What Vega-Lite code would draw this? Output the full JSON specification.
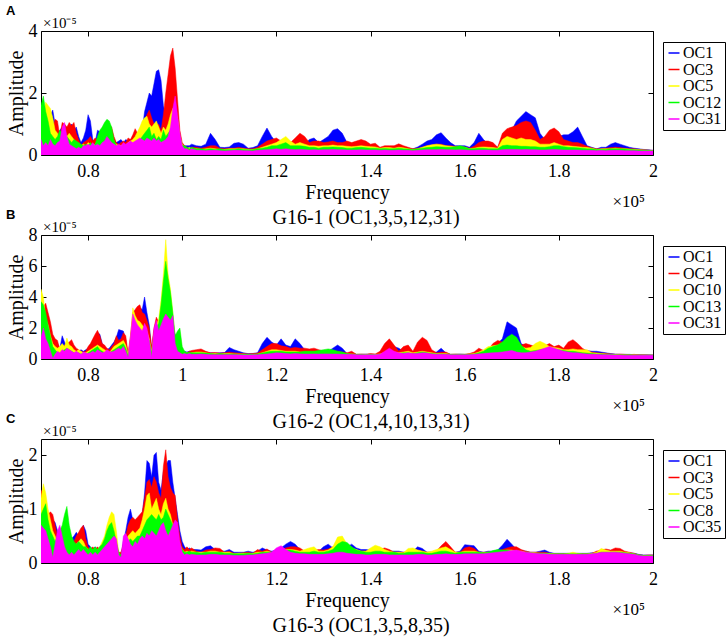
{
"$schema":"https://vega.github.io/schema/vega-lite/v6.json",
"padding":{"left":6,"top":5,"right":5,"bottom":5},
"bounds":"flush",
"spacing":80,
"config":{
 "font":"Liberation Serif",
 "view":{"stroke":null},
 "axis":{"domain":true,"domainColor":"#000","domainWidth":1,"grid":false,"ticks":true,"tickColor":"#000","tickSize":-5,"tickWidth":1,"labelFont":"Liberation Serif","labelFontSize":18,"labelColor":"#000","labelFlush":false,"titleFont":"Liberation Serif","titleFontSize":20,"titleFontWeight":"normal","titleColor":"#000","zindex":1},
 "legend":{"orient":"none","legendX":622,"legendY":11,"symbolType":"stroke","symbolSize":121,"symbolStrokeWidth":1.5,"labelFont":"Liberation Serif","labelFontSize":16,"labelColor":"#000","strokeColor":"#000","fillColor":"#fff","padding":3,"rowPadding":0.5,"labelOffset":1,"cornerRadius":0},
 "title":{"anchor":"start","frame":"bounds","font":"Liberation Sans","fontSize":13,"fontWeight":"bold","color":"#000","offset":0,"dy":6}
},
"resolve":{"scale":{"x":"independent","y":"independent","stroke":"independent"},"legend":{"stroke":"independent"}},
"datasets":{
"A":[
{"f":0.700,"b":1.1,"r":1.5,"y":1.2,"g":1.6,"m":0.5},
{"f":0.705,"b":1.0,"r":1.3,"y":1.4,"g":1.9,"m":0.3},
{"f":0.710,"b":0.9,"r":1.0,"y":1.7,"g":1.4,"m":0.4},
{"f":0.715,"b":0.8,"r":0.9,"y":1.6,"g":1.1,"m":0.3},
{"f":0.720,"b":1.3,"r":0.8,"y":1.5,"g":0.7,"m":0.5},
{"f":0.725,"b":1.45,"r":0.9,"y":1.2,"g":0.6,"m":0.35},
{"f":0.730,"b":1.0,"r":1.15,"y":0.8,"g":0.5,"m":0.3},
{"f":0.735,"b":0.7,"r":1.1,"y":0.7,"g":0.6,"m":0.4},
{"f":0.740,"b":0.8,"r":0.6,"y":0.5,"g":0.8,"m":0.45},
{"f":0.745,"b":0.9,"r":1.05,"y":0.6,"g":0.7,"m":0.9},
{"f":0.750,"b":0.8,"r":1.0,"y":0.7,"g":0.5,"m":1.05},
{"f":0.755,"b":0.7,"r":0.9,"y":0.6,"g":0.6,"m":0.6},
{"f":0.760,"b":0.9,"r":1.05,"y":0.7,"g":0.5,"m":0.35},
{"f":0.765,"b":1.0,"r":0.95,"y":0.6,"g":0.4,"m":0.3},
{"f":0.770,"b":0.8,"r":1.05,"y":0.5,"g":0.5,"m":0.25},
{"f":0.775,"b":0.9,"r":0.7,"y":0.4,"g":0.45,"m":0.2},
{"f":0.780,"b":0.6,"r":0.5,"y":0.35,"g":0.4,"m":0.25},
{"f":0.785,"b":0.4,"r":0.3,"y":0.3,"g":0.35,"m":0.2},
{"f":0.790,"b":0.55,"r":0.4,"y":0.35,"g":0.3,"m":0.3},
{"f":0.795,"b":0.8,"r":0.45,"y":0.3,"g":0.35,"m":0.3},
{"f":0.800,"b":1.3,"r":0.5,"y":0.4,"g":0.3,"m":0.35},
{"f":0.805,"b":1.1,"r":0.6,"y":0.35,"g":0.4,"m":0.3},
{"f":0.810,"b":0.5,"r":0.45,"y":0.3,"g":0.3,"m":0.4},
{"f":0.815,"b":0.4,"r":0.55,"y":0.35,"g":0.35,"m":0.3},
{"f":0.820,"b":0.8,"r":0.5,"y":0.4,"g":0.6,"m":0.35},
{"f":0.825,"b":0.75,"r":0.6,"y":0.45,"g":0.8,"m":0.3},
{"f":0.830,"b":0.6,"r":0.75,"y":0.5,"g":0.9,"m":0.4},
{"f":0.835,"b":0.7,"r":0.9,"y":0.6,"g":1.05,"m":0.45},
{"f":0.840,"b":0.8,"r":1.0,"y":0.7,"g":1.15,"m":0.6},
{"f":0.845,"b":0.7,"r":0.95,"y":0.8,"g":1.1,"m":0.5},
{"f":0.850,"b":0.6,"r":0.9,"y":0.6,"g":0.9,"m":0.4},
{"f":0.855,"b":0.5,"r":0.6,"y":0.4,"g":0.5,"m":0.35},
{"f":0.860,"b":0.4,"r":0.4,"y":0.35,"g":0.3,"m":0.3},
{"f":0.865,"b":0.45,"r":0.35,"y":0.3,"g":0.25,"m":0.35},
{"f":0.870,"b":0.5,"r":0.4,"y":0.3,"g":0.2,"m":0.3},
{"f":0.875,"b":0.4,"r":0.45,"y":0.35,"g":0.25,"m":0.4},
{"f":0.880,"b":0.5,"r":0.4,"y":0.3,"g":0.3,"m":0.35},
{"f":0.885,"b":0.45,"r":0.55,"y":0.4,"g":0.35,"m":0.4},
{"f":0.890,"b":0.5,"r":0.5,"y":0.45,"g":0.3,"m":0.45},
{"f":0.895,"b":0.4,"r":0.65,"y":0.5,"g":0.35,"m":0.4},
{"f":0.900,"b":0.5,"r":0.85,"y":0.6,"g":0.4,"m":0.45},
{"f":0.905,"b":0.6,"r":0.7,"y":0.75,"g":0.45,"m":0.5},
{"f":0.910,"b":0.7,"r":0.6,"y":0.9,"g":0.5,"m":0.55},
{"f":0.915,"b":0.8,"r":0.8,"y":1.1,"g":0.6,"m":0.5},
{"f":0.920,"b":1.4,"r":1.1,"y":1.2,"g":0.7,"m":0.45},
{"f":0.925,"b":1.7,"r":1.3,"y":1.25,"g":0.8,"m":0.55},
{"f":0.930,"b":2.0,"r":1.45,"y":1.0,"g":0.9,"m":0.5},
{"f":0.935,"b":1.9,"r":1.2,"y":0.9,"g":0.6,"m":0.45},
{"f":0.940,"b":2.3,"r":1.0,"y":1.0,"g":0.7,"m":0.55},
{"f":0.945,"b":2.7,"r":0.9,"y":1.1,"g":0.5,"m":0.45},
{"f":0.950,"b":2.75,"r":1.0,"y":0.9,"g":0.6,"m":0.5},
{"f":0.955,"b":2.4,"r":0.8,"y":0.7,"g":0.5,"m":0.4},
{"f":0.960,"b":1.6,"r":1.3,"y":0.9,"g":0.8,"m":0.45},
{"f":0.965,"b":1.3,"r":2.0,"y":0.8,"g":0.6,"m":0.5},
{"f":0.970,"b":1.1,"r":2.6,"y":1.0,"g":0.7,"m":0.6},
{"f":0.975,"b":0.9,"r":3.2,"y":1.3,"g":0.8,"m":0.9},
{"f":0.980,"b":0.8,"r":3.45,"y":1.5,"g":1.0,"m":1.5},
{"f":0.985,"b":0.7,"r":2.8,"y":1.4,"g":1.1,"m":1.9},
{"f":0.990,"b":0.6,"r":1.8,"y":1.2,"g":0.9,"m":1.3},
{"f":0.995,"b":0.5,"r":0.8,"y":0.6,"g":0.6,"m":0.7},
{"f":1.000,"b":0.35,"r":0.4,"y":0.35,"g":0.3,"m":0.3},
{"f":1.005,"b":0.3,"r":0.3,"y":0.25,"g":0.3,"m":0.2},
{"f":1.010,"b":0.3,"r":0.25,"y":0.2,"g":0.25,"m":0.2},
{"f":1.015,"b":0.3,"r":0.2,"y":0.25,"g":0.2,"m":0.15},
{"f":1.020,"b":0.35,"r":0.25,"y":0.2,"g":0.25,"m":0.2},
{"f":1.03,"b":0.3,"r":0.25,"y":0.2,"g":0.2,"m":0.15},
{"f":1.04,"b":0.28,"r":0.22,"y":0.18,"g":0.2,"m":0.15},
{"f":1.05,"b":0.35,"r":0.25,"y":0.2,"g":0.18,"m":0.14},
{"f":1.06,"b":0.7,"r":0.3,"y":0.22,"g":0.2,"m":0.15},
{"f":1.07,"b":0.5,"r":0.3,"y":0.2,"g":0.18,"m":0.15},
{"f":1.08,"b":0.25,"r":0.22,"y":0.18,"g":0.2,"m":0.14},
{"f":1.09,"b":0.24,"r":0.2,"y":0.18,"g":0.17,"m":0.13},
{"f":1.10,"b":0.26,"r":0.22,"y":0.2,"g":0.18,"m":0.14},
{"f":1.11,"b":0.38,"r":0.22,"y":0.2,"g":0.18,"m":0.15},
{"f":1.12,"b":0.4,"r":0.25,"y":0.2,"g":0.2,"m":0.15},
{"f":1.13,"b":0.35,"r":0.22,"y":0.2,"g":0.18,"m":0.14},
{"f":1.14,"b":0.22,"r":0.2,"y":0.18,"g":0.17,"m":0.14},
{"f":1.15,"b":0.24,"r":0.2,"y":0.18,"g":0.17,"m":0.13},
{"f":1.16,"b":0.3,"r":0.25,"y":0.2,"g":0.2,"m":0.15},
{"f":1.17,"b":0.6,"r":0.35,"y":0.25,"g":0.22,"m":0.16},
{"f":1.18,"b":0.87,"r":0.45,"y":0.3,"g":0.25,"m":0.17},
{"f":1.19,"b":0.6,"r":0.5,"y":0.35,"g":0.3,"m":0.18},
{"f":1.20,"b":0.4,"r":0.55,"y":0.4,"g":0.3,"m":0.2},
{"f":1.21,"b":0.35,"r":0.45,"y":0.5,"g":0.35,"m":0.18},
{"f":1.22,"b":0.35,"r":0.45,"y":0.6,"g":0.4,"m":0.2},
{"f":1.23,"b":0.3,"r":0.4,"y":0.45,"g":0.3,"m":0.18},
{"f":1.24,"b":0.35,"r":0.55,"y":0.35,"g":0.3,"m":0.17},
{"f":1.25,"b":0.4,"r":0.7,"y":0.4,"g":0.3,"m":0.18},
{"f":1.26,"b":0.35,"r":0.6,"y":0.35,"g":0.28,"m":0.17},
{"f":1.27,"b":0.5,"r":0.4,"y":0.3,"g":0.25,"m":0.16},
{"f":1.28,"b":0.55,"r":0.45,"y":0.3,"g":0.25,"m":0.17},
{"f":1.29,"b":0.4,"r":0.45,"y":0.28,"g":0.22,"m":0.16},
{"f":1.30,"b":0.5,"r":0.4,"y":0.3,"g":0.25,"m":0.17},
{"f":1.31,"b":0.6,"r":0.42,"y":0.3,"g":0.25,"m":0.17},
{"f":1.32,"b":0.8,"r":0.45,"y":0.32,"g":0.26,"m":0.18},
{"f":1.33,"b":0.85,"r":0.4,"y":0.3,"g":0.25,"m":0.17},
{"f":1.34,"b":0.7,"r":0.4,"y":0.3,"g":0.24,"m":0.17},
{"f":1.35,"b":0.4,"r":0.45,"y":0.28,"g":0.22,"m":0.16},
{"f":1.36,"b":0.35,"r":0.4,"y":0.27,"g":0.22,"m":0.16},
{"f":1.37,"b":0.38,"r":0.45,"y":0.28,"g":0.24,"m":0.16},
{"f":1.38,"b":0.4,"r":0.5,"y":0.3,"g":0.25,"m":0.17},
{"f":1.39,"b":0.35,"r":0.45,"y":0.28,"g":0.23,"m":0.16},
{"f":1.40,"b":0.3,"r":0.35,"y":0.27,"g":0.22,"m":0.16},
{"f":1.41,"b":0.3,"r":0.38,"y":0.26,"g":0.22,"m":0.16},
{"f":1.42,"b":0.22,"r":0.25,"y":0.22,"g":0.2,"m":0.15},
{"f":1.43,"b":0.25,"r":0.3,"y":0.24,"g":0.21,"m":0.16},
{"f":1.44,"b":0.27,"r":0.3,"y":0.24,"g":0.2,"m":0.15},
{"f":1.45,"b":0.25,"r":0.3,"y":0.22,"g":0.2,"m":0.15},
{"f":1.46,"b":0.3,"r":0.36,"y":0.25,"g":0.22,"m":0.16},
{"f":1.47,"b":0.26,"r":0.3,"y":0.23,"g":0.2,"m":0.15},
{"f":1.48,"b":0.22,"r":0.25,"y":0.2,"g":0.19,"m":0.15},
{"f":1.49,"b":0.2,"r":0.2,"y":0.18,"g":0.18,"m":0.14},
{"f":1.50,"b":0.26,"r":0.22,"y":0.2,"g":0.2,"m":0.15},
{"f":1.51,"b":0.35,"r":0.25,"y":0.25,"g":0.22,"m":0.16},
{"f":1.52,"b":0.45,"r":0.3,"y":0.3,"g":0.24,"m":0.17},
{"f":1.53,"b":0.5,"r":0.32,"y":0.33,"g":0.25,"m":0.17},
{"f":1.54,"b":0.65,"r":0.35,"y":0.35,"g":0.27,"m":0.17},
{"f":1.55,"b":0.72,"r":0.35,"y":0.33,"g":0.26,"m":0.18},
{"f":1.56,"b":0.55,"r":0.3,"y":0.3,"g":0.25,"m":0.17},
{"f":1.57,"b":0.4,"r":0.3,"y":0.28,"g":0.25,"m":0.17},
{"f":1.58,"b":0.3,"r":0.28,"y":0.26,"g":0.27,"m":0.16},
{"f":1.59,"b":0.3,"r":0.27,"y":0.26,"g":0.3,"m":0.17},
{"f":1.60,"b":0.3,"r":0.26,"y":0.25,"g":0.26,"m":0.16},
{"f":1.61,"b":0.25,"r":0.22,"y":0.2,"g":0.2,"m":0.15},
{"f":1.62,"b":0.4,"r":0.28,"y":0.22,"g":0.2,"m":0.15},
{"f":1.63,"b":0.7,"r":0.4,"y":0.25,"g":0.22,"m":0.16},
{"f":1.64,"b":0.5,"r":0.45,"y":0.26,"g":0.22,"m":0.16},
{"f":1.65,"b":0.35,"r":0.45,"y":0.25,"g":0.2,"m":0.16},
{"f":1.66,"b":0.3,"r":0.4,"y":0.24,"g":0.2,"m":0.15},
{"f":1.67,"b":0.25,"r":0.25,"y":0.22,"g":0.2,"m":0.15},
{"f":1.68,"b":0.5,"r":0.7,"y":0.5,"g":0.3,"m":0.17},
{"f":1.69,"b":0.6,"r":0.85,"y":0.6,"g":0.32,"m":0.18},
{"f":1.70,"b":0.8,"r":0.9,"y":0.55,"g":0.3,"m":0.18},
{"f":1.71,"b":1.1,"r":0.95,"y":0.5,"g":0.3,"m":0.18},
{"f":1.72,"b":1.25,"r":1.05,"y":0.55,"g":0.28,"m":0.17},
{"f":1.73,"b":1.4,"r":1.1,"y":0.5,"g":0.28,"m":0.18},
{"f":1.74,"b":1.3,"r":1.05,"y":0.5,"g":0.27,"m":0.17},
{"f":1.75,"b":1.2,"r":0.8,"y":0.45,"g":0.27,"m":0.17},
{"f":1.76,"b":0.7,"r":0.5,"y":0.35,"g":0.25,"m":0.16},
{"f":1.77,"b":0.5,"r":0.6,"y":0.35,"g":0.25,"m":0.16},
{"f":1.78,"b":0.6,"r":0.8,"y":0.35,"g":0.27,"m":0.17},
{"f":1.79,"b":0.7,"r":0.87,"y":0.4,"g":0.3,"m":0.18},
{"f":1.80,"b":0.6,"r":0.75,"y":0.35,"g":0.3,"m":0.17},
{"f":1.81,"b":0.65,"r":0.5,"y":0.3,"g":0.27,"m":0.16},
{"f":1.82,"b":0.65,"r":0.45,"y":0.3,"g":0.25,"m":0.16},
{"f":1.83,"b":0.75,"r":0.4,"y":0.28,"g":0.24,"m":0.16},
{"f":1.84,"b":0.9,"r":0.4,"y":0.27,"g":0.23,"m":0.16},
{"f":1.85,"b":0.6,"r":0.35,"y":0.25,"g":0.22,"m":0.15},
{"f":1.86,"b":0.3,"r":0.28,"y":0.24,"g":0.2,"m":0.15},
{"f":1.87,"b":0.25,"r":0.23,"y":0.22,"g":0.2,"m":0.15},
{"f":1.88,"b":0.2,"r":0.2,"y":0.18,"g":0.18,"m":0.14},
{"f":1.89,"b":0.25,"r":0.2,"y":0.2,"g":0.18,"m":0.15},
{"f":1.90,"b":0.25,"r":0.22,"y":0.2,"g":0.18,"m":0.14},
{"f":1.91,"b":0.35,"r":0.24,"y":0.2,"g":0.2,"m":0.15},
{"f":1.92,"b":0.4,"r":0.25,"y":0.22,"g":0.2,"m":0.15},
{"f":1.93,"b":0.35,"r":0.24,"y":0.2,"g":0.2,"m":0.15},
{"f":1.94,"b":0.3,"r":0.22,"y":0.2,"g":0.19,"m":0.14},
{"f":1.95,"b":0.25,"r":0.2,"y":0.19,"g":0.18,"m":0.14},
{"f":1.96,"b":0.22,"r":0.2,"y":0.18,"g":0.17,"m":0.14},
{"f":1.97,"b":0.2,"r":0.18,"y":0.17,"g":0.16,"m":0.13},
{"f":1.98,"b":0.18,"r":0.17,"y":0.16,"g":0.15,"m":0.13},
{"f":1.99,"b":0.17,"r":0.16,"y":0.15,"g":0.15,"m":0.13},
{"f":2.00,"b":0.15,"r":0.15,"y":0.14,"g":0.14,"m":0.13}
],
"B":[
{"f":0.700,"b":3.0,"r":3.2,"y":4.5,"g":3.7,"m":1.4},
{"f":0.705,"b":2.5,"r":3.4,"y":4.0,"g":3.5,"m":2.0},
{"f":0.710,"b":2.2,"r":3.6,"y":2.6,"g":3.0,"m":1.3},
{"f":0.715,"b":2.0,"r":3.0,"y":2.2,"g":2.2,"m":1.0},
{"f":0.720,"b":1.3,"r":2.4,"y":1.5,"g":1.5,"m":0.5},
{"f":0.725,"b":1.2,"r":1.6,"y":1.0,"g":0.8,"m":0.05},
{"f":0.730,"b":0.9,"r":1.3,"y":0.8,"g":0.6,"m":0.3},
{"f":0.735,"b":1.0,"r":1.2,"y":0.7,"g":0.4,"m":0.5},
{"f":0.740,"b":0.7,"r":0.6,"y":0.8,"g":0.3,"m":0.4},
{"f":0.745,"b":1.5,"r":0.8,"y":1.0,"g":0.5,"m":0.6},
{"f":0.750,"b":1.1,"r":0.9,"y":0.8,"g":0.6,"m":0.5},
{"f":0.755,"b":0.8,"r":1.0,"y":1.35,"g":0.7,"m":0.7},
{"f":0.760,"b":0.9,"r":1.1,"y":0.9,"g":0.6,"m":0.6},
{"f":0.765,"b":1.0,"r":1.25,"y":0.8,"g":0.5,"m":0.5},
{"f":0.770,"b":0.8,"r":0.9,"y":0.6,"g":0.4,"m":0.4},
{"f":0.775,"b":0.6,"r":0.7,"y":0.5,"g":0.3,"m":0.5},
{"f":0.780,"b":0.5,"r":0.6,"y":0.6,"g":0.4,"m":0.4},
{"f":0.785,"b":0.6,"r":0.5,"y":0.5,"g":0.3,"m":0.3},
{"f":0.790,"b":0.5,"r":0.45,"y":0.4,"g":0.4,"m":0.45},
{"f":0.795,"b":0.6,"r":0.5,"y":0.4,"g":0.3,"m":0.4},
{"f":0.800,"b":0.7,"r":0.8,"y":0.5,"g":0.4,"m":0.35},
{"f":0.805,"b":0.9,"r":1.0,"y":0.6,"g":0.5,"m":0.4},
{"f":0.810,"b":1.1,"r":1.3,"y":0.7,"g":0.6,"m":0.5},
{"f":0.815,"b":1.4,"r":1.6,"y":0.8,"g":0.7,"m":0.4},
{"f":0.820,"b":1.7,"r":1.85,"y":0.9,"g":0.8,"m":0.6},
{"f":0.825,"b":1.6,"r":1.5,"y":0.8,"g":0.6,"m":0.5},
{"f":0.830,"b":1.0,"r":1.0,"y":0.7,"g":0.5,"m":0.4},
{"f":0.835,"b":0.8,"r":0.9,"y":0.6,"g":0.4,"m":0.45},
{"f":0.840,"b":0.6,"r":0.7,"y":0.5,"g":0.3,"m":0.6},
{"f":0.845,"b":0.7,"r":0.6,"y":0.4,"g":0.35,"m":0.5},
{"f":0.850,"b":0.9,"r":0.8,"y":0.6,"g":0.5,"m":0.45},
{"f":0.855,"b":1.1,"r":1.0,"y":0.8,"g":0.6,"m":0.5},
{"f":0.860,"b":1.4,"r":1.5,"y":0.9,"g":0.7,"m":0.6},
{"f":0.865,"b":1.9,"r":1.2,"y":1.0,"g":0.8,"m":0.7},
{"f":0.870,"b":1.85,"r":1.3,"y":1.1,"g":0.9,"m":0.6},
{"f":0.875,"b":1.8,"r":1.7,"y":1.2,"g":1.0,"m":0.8},
{"f":0.880,"b":1.2,"r":1.5,"y":0.9,"g":0.7,"m":0.5},
{"f":0.885,"b":0.1,"r":0.4,"y":0.3,"g":0.2,"m":0.1},
{"f":0.890,"b":0.5,"r":1.5,"y":1.2,"g":1.0,"m":1.4},
{"f":0.895,"b":2.4,"r":3.0,"y":3.3,"g":2.0,"m":2.9},
{"f":0.900,"b":2.6,"r":3.2,"y":2.8,"g":1.8,"m":2.5},
{"f":0.905,"b":3.0,"r":3.4,"y":2.5,"g":1.6,"m":2.2},
{"f":0.910,"b":3.3,"r":3.5,"y":2.4,"g":1.5,"m":2.0},
{"f":0.915,"b":3.2,"r":3.0,"y":2.2,"g":1.6,"m":1.8},
{"f":0.920,"b":4.0,"r":2.9,"y":2.0,"g":1.5,"m":2.3},
{"f":0.925,"b":3.0,"r":2.5,"y":1.8,"g":1.4,"m":2.0},
{"f":0.930,"b":2.2,"r":2.0,"y":1.3,"g":1.2,"m":1.2},
{"f":0.935,"b":0.6,"r":0.8,"y":0.5,"g":0.4,"m":0.1},
{"f":0.940,"b":1.8,"r":2.0,"y":1.6,"g":1.5,"m":2.0},
{"f":0.945,"b":2.4,"r":2.7,"y":2.2,"g":2.0,"m":2.5},
{"f":0.950,"b":2.5,"r":2.4,"y":2.6,"g":2.3,"m":1.8},
{"f":0.955,"b":2.6,"r":2.5,"y":3.8,"g":3.5,"m":2.2},
{"f":0.960,"b":2.8,"r":2.7,"y":5.5,"g":5.0,"m":2.6},
{"f":0.965,"b":2.7,"r":2.6,"y":7.7,"g":6.3,"m":2.9},
{"f":0.970,"b":2.5,"r":2.4,"y":5.5,"g":5.2,"m":2.7},
{"f":0.975,"b":2.3,"r":2.2,"y":4.5,"g":4.3,"m":2.5},
{"f":0.980,"b":2.0,"r":1.9,"y":3.0,"g":3.0,"m":2.8},
{"f":0.985,"b":1.6,"r":1.5,"y":1.4,"g":1.5,"m":1.0},
{"f":0.990,"b":1.2,"r":1.0,"y":1.6,"g":1.8,"m":0.5},
{"f":0.995,"b":0.9,"r":0.8,"y":1.7,"g":2.0,"m":0.4},
{"f":1.000,"b":0.6,"r":0.5,"y":0.6,"g":0.8,"m":0.3},
{"f":1.005,"b":0.5,"r":0.4,"y":0.45,"g":0.5,"m":0.35},
{"f":1.010,"b":0.45,"r":0.4,"y":0.4,"g":0.4,"m":0.3},
{"f":1.015,"b":0.5,"r":0.5,"y":0.35,"g":0.45,"m":0.35},
{"f":1.020,"b":0.45,"r":0.55,"y":0.4,"g":0.4,"m":0.3},
{"f":1.03,"b":0.5,"r":0.6,"y":0.45,"g":0.4,"m":0.3},
{"f":1.04,"b":0.55,"r":0.65,"y":0.45,"g":0.4,"m":0.32},
{"f":1.05,"b":0.45,"r":0.5,"y":0.4,"g":0.38,"m":0.3},
{"f":1.06,"b":0.4,"r":0.4,"y":0.35,"g":0.35,"m":0.28},
{"f":1.07,"b":0.38,"r":0.42,"y":0.35,"g":0.32,"m":0.28},
{"f":1.08,"b":0.4,"r":0.38,"y":0.33,"g":0.35,"m":0.27},
{"f":1.09,"b":0.42,"r":0.4,"y":0.35,"g":0.33,"m":0.28},
{"f":1.10,"b":0.75,"r":0.45,"y":0.35,"g":0.33,"m":0.28},
{"f":1.11,"b":0.6,"r":0.4,"y":0.33,"g":0.32,"m":0.27},
{"f":1.12,"b":0.5,"r":0.38,"y":0.32,"g":0.3,"m":0.27},
{"f":1.13,"b":0.4,"r":0.35,"y":0.32,"g":0.3,"m":0.26},
{"f":1.14,"b":0.35,"r":0.33,"y":0.3,"g":0.3,"m":0.26},
{"f":1.15,"b":0.36,"r":0.35,"y":0.3,"g":0.3,"m":0.27},
{"f":1.16,"b":0.4,"r":0.38,"y":0.32,"g":0.32,"m":0.27},
{"f":1.17,"b":1.0,"r":0.6,"y":0.4,"g":0.38,"m":0.3},
{"f":1.18,"b":1.4,"r":0.8,"y":0.5,"g":0.45,"m":0.32},
{"f":1.19,"b":1.1,"r":1.0,"y":0.6,"g":0.5,"m":0.35},
{"f":1.20,"b":0.9,"r":1.0,"y":0.6,"g":0.5,"m":0.4},
{"f":1.21,"b":1.3,"r":0.85,"y":0.55,"g":0.5,"m":0.38},
{"f":1.22,"b":0.9,"r":0.8,"y":0.5,"g":0.45,"m":0.35},
{"f":1.23,"b":0.8,"r":0.7,"y":0.5,"g":0.45,"m":0.33},
{"f":1.24,"b":1.3,"r":0.75,"y":0.5,"g":0.45,"m":0.35},
{"f":1.25,"b":1.0,"r":0.7,"y":0.45,"g":0.45,"m":0.33},
{"f":1.26,"b":0.6,"r":0.7,"y":0.45,"g":0.5,"m":0.32},
{"f":1.27,"b":0.55,"r":0.65,"y":0.45,"g":0.5,"m":0.32},
{"f":1.28,"b":0.6,"r":0.7,"y":0.45,"g":0.5,"m":0.33},
{"f":1.29,"b":0.5,"r":0.6,"y":0.4,"g":0.55,"m":0.32},
{"f":1.30,"b":0.45,"r":0.5,"y":0.4,"g":0.6,"m":0.33},
{"f":1.31,"b":0.5,"r":0.55,"y":0.4,"g":0.65,"m":0.33},
{"f":1.32,"b":0.7,"r":0.55,"y":0.4,"g":0.6,"m":0.32},
{"f":1.33,"b":0.9,"r":0.5,"y":0.4,"g":0.5,"m":0.32},
{"f":1.34,"b":0.7,"r":0.45,"y":0.38,"g":0.45,"m":0.3},
{"f":1.35,"b":0.35,"r":0.4,"y":0.33,"g":0.35,"m":0.3},
{"f":1.36,"b":0.4,"r":0.5,"y":0.33,"g":0.32,"m":0.3},
{"f":1.37,"b":0.3,"r":0.3,"y":0.3,"g":0.3,"m":0.28},
{"f":1.38,"b":0.3,"r":0.32,"y":0.3,"g":0.3,"m":0.28},
{"f":1.39,"b":0.32,"r":0.3,"y":0.3,"g":0.28,"m":0.27},
{"f":1.40,"b":0.3,"r":0.35,"y":0.3,"g":0.3,"m":0.28},
{"f":1.41,"b":0.3,"r":0.32,"y":0.3,"g":0.28,"m":0.27},
{"f":1.42,"b":0.35,"r":0.5,"y":0.33,"g":0.3,"m":0.3},
{"f":1.43,"b":0.5,"r":1.0,"y":0.4,"g":0.35,"m":0.5},
{"f":1.44,"b":0.6,"r":1.3,"y":0.5,"g":0.45,"m":0.7},
{"f":1.45,"b":0.8,"r":0.9,"y":0.45,"g":0.4,"m":0.5},
{"f":1.46,"b":0.7,"r":0.5,"y":0.4,"g":0.35,"m":0.4},
{"f":1.47,"b":0.5,"r":0.8,"y":0.45,"g":0.4,"m":0.35},
{"f":1.48,"b":0.45,"r":0.9,"y":0.5,"g":0.4,"m":0.4},
{"f":1.49,"b":0.4,"r":0.5,"y":0.4,"g":0.35,"m":0.35},
{"f":1.50,"b":0.5,"r":1.1,"y":0.45,"g":0.4,"m":0.35},
{"f":1.51,"b":0.5,"r":1.4,"y":0.5,"g":0.45,"m":0.4},
{"f":1.52,"b":0.45,"r":1.2,"y":0.45,"g":0.4,"m":0.38},
{"f":1.53,"b":0.4,"r":0.6,"y":0.4,"g":0.35,"m":0.33},
{"f":1.54,"b":0.45,"r":0.4,"y":0.35,"g":0.33,"m":0.3},
{"f":1.55,"b":0.7,"r":0.45,"y":0.35,"g":0.33,"m":0.3},
{"f":1.56,"b":0.4,"r":0.45,"y":0.35,"g":0.32,"m":0.3},
{"f":1.57,"b":0.3,"r":0.3,"y":0.3,"g":0.3,"m":0.28},
{"f":1.58,"b":0.3,"r":0.32,"y":0.3,"g":0.3,"m":0.28},
{"f":1.59,"b":0.32,"r":0.3,"y":0.3,"g":0.3,"m":0.28},
{"f":1.60,"b":0.3,"r":0.3,"y":0.3,"g":0.3,"m":0.28},
{"f":1.61,"b":0.3,"r":0.35,"y":0.32,"g":0.3,"m":0.28},
{"f":1.62,"b":0.35,"r":0.45,"y":0.35,"g":0.32,"m":0.3},
{"f":1.63,"b":0.5,"r":0.7,"y":0.45,"g":0.4,"m":0.33},
{"f":1.64,"b":0.5,"r":0.55,"y":0.6,"g":0.5,"m":0.35},
{"f":1.65,"b":0.6,"r":0.6,"y":0.8,"g":0.7,"m":0.38},
{"f":1.66,"b":0.8,"r":1.0,"y":0.85,"g":0.8,"m":0.4},
{"f":1.67,"b":1.0,"r":1.2,"y":0.9,"g":0.9,"m":0.42},
{"f":1.68,"b":1.3,"r":1.1,"y":1.0,"g":1.1,"m":0.45},
{"f":1.69,"b":2.4,"r":1.2,"y":1.2,"g":1.4,"m":0.5},
{"f":1.70,"b":2.2,"r":1.3,"y":1.3,"g":1.6,"m":0.55},
{"f":1.71,"b":2.0,"r":1.2,"y":1.2,"g":1.4,"m":0.45},
{"f":1.72,"b":1.0,"r":0.9,"y":0.8,"g":0.9,"m":0.4},
{"f":1.73,"b":0.8,"r":1.0,"y":0.7,"g":0.6,"m":0.4},
{"f":1.74,"b":0.8,"r":0.9,"y":0.75,"g":0.5,"m":0.45},
{"f":1.75,"b":0.7,"r":0.8,"y":1.0,"g":0.55,"m":0.5},
{"f":1.76,"b":0.7,"r":0.9,"y":1.15,"g":0.6,"m":0.6},
{"f":1.77,"b":0.75,"r":0.85,"y":1.0,"g":0.65,"m":0.7},
{"f":1.78,"b":0.8,"r":1.0,"y":0.8,"g":0.7,"m":0.8},
{"f":1.79,"b":0.7,"r":0.8,"y":0.75,"g":0.65,"m":0.7},
{"f":1.80,"b":0.75,"r":0.9,"y":0.7,"g":0.6,"m":0.6},
{"f":1.81,"b":0.6,"r":0.7,"y":0.6,"g":0.55,"m":0.5},
{"f":1.82,"b":0.7,"r":1.1,"y":0.6,"g":0.5,"m":0.45},
{"f":1.83,"b":0.8,"r":1.25,"y":0.65,"g":0.5,"m":0.4},
{"f":1.84,"b":0.7,"r":1.0,"y":0.6,"g":0.45,"m":0.4},
{"f":1.85,"b":0.6,"r":0.7,"y":0.6,"g":0.4,"m":0.35},
{"f":1.86,"b":0.55,"r":0.5,"y":0.6,"g":0.38,"m":0.33},
{"f":1.87,"b":0.5,"r":0.45,"y":0.4,"g":0.35,"m":0.3},
{"f":1.88,"b":0.5,"r":0.4,"y":0.38,"g":0.33,"m":0.3},
{"f":1.89,"b":0.45,"r":0.38,"y":0.35,"g":0.32,"m":0.28},
{"f":1.90,"b":0.4,"r":0.36,"y":0.33,"g":0.3,"m":0.28},
{"f":1.91,"b":0.35,"r":0.33,"y":0.3,"g":0.3,"m":0.27},
{"f":1.92,"b":0.32,"r":0.3,"y":0.3,"g":0.28,"m":0.26},
{"f":1.93,"b":0.3,"r":0.32,"y":0.28,"g":0.28,"m":0.26},
{"f":1.94,"b":0.3,"r":0.3,"y":0.28,"g":0.27,"m":0.25},
{"f":1.95,"b":0.3,"r":0.28,"y":0.27,"g":0.27,"m":0.25},
{"f":1.96,"b":0.28,"r":0.3,"y":0.27,"g":0.26,"m":0.25},
{"f":1.97,"b":0.28,"r":0.27,"y":0.26,"g":0.26,"m":0.25},
{"f":1.98,"b":0.27,"r":0.27,"y":0.26,"g":0.25,"m":0.24},
{"f":1.99,"b":0.27,"r":0.26,"y":0.25,"g":0.25,"m":0.24},
{"f":2.00,"b":0.26,"r":0.26,"y":0.25,"g":0.25,"m":0.24}
],
"C":[
{"f":0.700,"b":1.0,"r":1.35,"y":1.2,"g":0.9,"m":0.7},
{"f":0.705,"b":0.9,"r":1.3,"y":1.47,"g":1.0,"m":0.65},
{"f":0.710,"b":0.8,"r":1.1,"y":1.3,"g":1.1,"m":0.6},
{"f":0.715,"b":0.7,"r":0.9,"y":1.0,"g":0.8,"m":0.45},
{"f":0.720,"b":0.85,"r":0.95,"y":0.8,"g":0.6,"m":0.3},
{"f":0.725,"b":0.8,"r":0.9,"y":0.6,"g":0.5,"m":0.1},
{"f":0.730,"b":0.75,"r":0.7,"y":0.5,"g":0.4,"m":0.35},
{"f":0.735,"b":0.6,"r":0.5,"y":0.4,"g":0.5,"m":0.6},
{"f":0.740,"b":0.4,"r":0.4,"y":0.3,"g":0.6,"m":0.7},
{"f":0.745,"b":0.5,"r":0.45,"y":0.35,"g":0.7,"m":0.5},
{"f":0.750,"b":0.4,"r":0.4,"y":0.4,"g":0.9,"m":0.3},
{"f":0.755,"b":0.45,"r":0.35,"y":0.45,"g":1.05,"m":0.2},
{"f":0.760,"b":0.5,"r":0.4,"y":0.4,"g":0.7,"m":0.15},
{"f":0.765,"b":0.45,"r":0.35,"y":0.35,"g":0.5,"m":0.2},
{"f":0.770,"b":0.5,"r":0.4,"y":0.3,"g":0.4,"m":0.15},
{"f":0.775,"b":0.57,"r":0.5,"y":0.35,"g":0.35,"m":0.2},
{"f":0.780,"b":0.5,"r":0.57,"y":0.4,"g":0.4,"m":0.25},
{"f":0.785,"b":0.6,"r":0.65,"y":0.45,"g":0.35,"m":0.2},
{"f":0.790,"b":0.7,"r":0.7,"y":0.4,"g":0.3,"m":0.25},
{"f":0.795,"b":0.6,"r":0.45,"y":0.3,"g":0.3,"m":0.2},
{"f":0.800,"b":0.35,"r":0.3,"y":0.25,"g":0.25,"m":0.15},
{"f":0.805,"b":0.3,"r":0.25,"y":0.2,"g":0.3,"m":0.2},
{"f":0.810,"b":0.25,"r":0.3,"y":0.25,"g":0.25,"m":0.15},
{"f":0.815,"b":0.3,"r":0.25,"y":0.2,"g":0.3,"m":0.2},
{"f":0.820,"b":0.25,"r":0.3,"y":0.25,"g":0.25,"m":0.15},
{"f":0.825,"b":0.3,"r":0.25,"y":0.3,"g":0.3,"m":0.2},
{"f":0.830,"b":0.35,"r":0.3,"y":0.4,"g":0.35,"m":0.25},
{"f":0.835,"b":0.3,"r":0.35,"y":0.5,"g":0.45,"m":0.3},
{"f":0.840,"b":0.35,"r":0.4,"y":0.7,"g":0.6,"m":0.35},
{"f":0.845,"b":0.4,"r":0.45,"y":0.85,"g":0.7,"m":0.4},
{"f":0.850,"b":0.45,"r":0.5,"y":0.95,"g":0.75,"m":0.45},
{"f":0.855,"b":0.4,"r":0.45,"y":0.9,"g":0.6,"m":0.5},
{"f":0.860,"b":0.3,"r":0.35,"y":0.6,"g":0.4,"m":0.45},
{"f":0.865,"b":0.2,"r":0.2,"y":0.2,"g":0.2,"m":0.15},
{"f":0.870,"b":0.15,"r":0.2,"y":0.1,"g":0.15,"m":0.1},
{"f":0.875,"b":0.4,"r":0.35,"y":0.3,"g":0.3,"m":0.5},
{"f":0.880,"b":0.6,"r":0.5,"y":0.4,"g":0.35,"m":0.55},
{"f":0.885,"b":0.85,"r":0.7,"y":0.5,"g":0.4,"m":0.45},
{"f":0.890,"b":1.0,"r":0.8,"y":0.55,"g":0.45,"m":0.35},
{"f":0.895,"b":0.8,"r":0.85,"y":0.6,"g":0.4,"m":0.3},
{"f":0.900,"b":0.7,"r":0.8,"y":0.55,"g":0.45,"m":0.4},
{"f":0.905,"b":0.65,"r":0.85,"y":0.6,"g":0.5,"m":0.35},
{"f":0.910,"b":0.8,"r":0.9,"y":0.65,"g":0.5,"m":0.45},
{"f":0.915,"b":0.9,"r":0.95,"y":0.8,"g":0.6,"m":0.5},
{"f":0.920,"b":1.3,"r":1.2,"y":1.0,"g":0.7,"m":0.45},
{"f":0.925,"b":1.9,"r":1.5,"y":1.25,"g":0.8,"m":0.55},
{"f":0.930,"b":1.85,"r":1.55,"y":1.3,"g":0.85,"m":0.5},
{"f":0.935,"b":1.6,"r":1.4,"y":1.0,"g":0.9,"m":0.6},
{"f":0.940,"b":2.0,"r":1.6,"y":1.1,"g":0.85,"m":0.55},
{"f":0.945,"b":2.05,"r":1.5,"y":1.2,"g":0.8,"m":0.5},
{"f":0.950,"b":1.5,"r":1.3,"y":1.0,"g":0.9,"m":0.6},
{"f":0.955,"b":1.35,"r":1.2,"y":0.9,"g":0.8,"m":0.7},
{"f":0.960,"b":1.7,"r":1.8,"y":1.1,"g":0.85,"m":0.75},
{"f":0.965,"b":1.8,"r":2.1,"y":1.2,"g":1.0,"m":0.6},
{"f":0.970,"b":1.9,"r":1.6,"y":1.0,"g":0.9,"m":0.5},
{"f":0.975,"b":1.9,"r":1.4,"y":0.9,"g":0.8,"m":0.6},
{"f":0.980,"b":1.5,"r":1.3,"y":0.7,"g":0.7,"m":0.7},
{"f":0.985,"b":1.2,"r":1.25,"y":0.6,"g":0.6,"m":0.8},
{"f":0.990,"b":0.9,"r":0.8,"y":0.5,"g":0.5,"m":0.75},
{"f":0.995,"b":0.6,"r":0.5,"y":0.35,"g":0.35,"m":0.4},
{"f":1.000,"b":0.4,"r":0.3,"y":0.25,"g":0.25,"m":0.2},
{"f":1.005,"b":0.3,"r":0.25,"y":0.2,"g":0.2,"m":0.15},
{"f":1.010,"b":0.25,"r":0.3,"y":0.22,"g":0.2,"m":0.17},
{"f":1.015,"b":0.28,"r":0.25,"y":0.2,"g":0.22,"m":0.15},
{"f":1.020,"b":0.25,"r":0.28,"y":0.22,"g":0.2,"m":0.16},
{"f":1.03,"b":0.25,"r":0.22,"y":0.2,"g":0.2,"m":0.15},
{"f":1.04,"b":0.24,"r":0.2,"y":0.2,"g":0.18,"m":0.15},
{"f":1.05,"b":0.3,"r":0.24,"y":0.2,"g":0.2,"m":0.15},
{"f":1.06,"b":0.32,"r":0.25,"y":0.22,"g":0.2,"m":0.16},
{"f":1.07,"b":0.25,"r":0.28,"y":0.22,"g":0.2,"m":0.16},
{"f":1.08,"b":0.22,"r":0.27,"y":0.2,"g":0.2,"m":0.15},
{"f":1.09,"b":0.22,"r":0.2,"y":0.2,"g":0.18,"m":0.15},
{"f":1.10,"b":0.25,"r":0.22,"y":0.2,"g":0.18,"m":0.15},
{"f":1.11,"b":0.2,"r":0.18,"y":0.17,"g":0.17,"m":0.14},
{"f":1.12,"b":0.2,"r":0.18,"y":0.18,"g":0.17,"m":0.14},
{"f":1.13,"b":0.2,"r":0.19,"y":0.18,"g":0.17,"m":0.14},
{"f":1.14,"b":0.22,"r":0.2,"y":0.18,"g":0.18,"m":0.15},
{"f":1.15,"b":0.2,"r":0.18,"y":0.18,"g":0.17,"m":0.15},
{"f":1.16,"b":0.22,"r":0.25,"y":0.2,"g":0.18,"m":0.16},
{"f":1.17,"b":0.28,"r":0.22,"y":0.2,"g":0.2,"m":0.17},
{"f":1.18,"b":0.24,"r":0.26,"y":0.22,"g":0.2,"m":0.18},
{"f":1.19,"b":0.22,"r":0.2,"y":0.2,"g":0.2,"m":0.2},
{"f":1.20,"b":0.24,"r":0.22,"y":0.22,"g":0.22,"m":0.28},
{"f":1.21,"b":0.28,"r":0.25,"y":0.25,"g":0.25,"m":0.32},
{"f":1.22,"b":0.35,"r":0.28,"y":0.25,"g":0.24,"m":0.25},
{"f":1.23,"b":0.4,"r":0.3,"y":0.25,"g":0.24,"m":0.2},
{"f":1.24,"b":0.35,"r":0.3,"y":0.24,"g":0.22,"m":0.18},
{"f":1.25,"b":0.25,"r":0.28,"y":0.22,"g":0.2,"m":0.17},
{"f":1.26,"b":0.22,"r":0.22,"y":0.25,"g":0.2,"m":0.17},
{"f":1.27,"b":0.22,"r":0.22,"y":0.28,"g":0.2,"m":0.16},
{"f":1.28,"b":0.23,"r":0.24,"y":0.3,"g":0.22,"m":0.16},
{"f":1.29,"b":0.22,"r":0.25,"y":0.22,"g":0.2,"m":0.16},
{"f":1.30,"b":0.3,"r":0.24,"y":0.22,"g":0.2,"m":0.16},
{"f":1.31,"b":0.35,"r":0.26,"y":0.24,"g":0.22,"m":0.17},
{"f":1.32,"b":0.28,"r":0.3,"y":0.3,"g":0.25,"m":0.18},
{"f":1.33,"b":0.3,"r":0.3,"y":0.48,"g":0.35,"m":0.2},
{"f":1.34,"b":0.3,"r":0.3,"y":0.5,"g":0.4,"m":0.2},
{"f":1.35,"b":0.3,"r":0.28,"y":0.35,"g":0.38,"m":0.18},
{"f":1.36,"b":0.35,"r":0.25,"y":0.28,"g":0.3,"m":0.17},
{"f":1.37,"b":0.28,"r":0.24,"y":0.25,"g":0.24,"m":0.16},
{"f":1.38,"b":0.25,"r":0.22,"y":0.22,"g":0.22,"m":0.16},
{"f":1.39,"b":0.25,"r":0.22,"y":0.22,"g":0.2,"m":0.15},
{"f":1.40,"b":0.24,"r":0.22,"y":0.28,"g":0.2,"m":0.15},
{"f":1.41,"b":0.25,"r":0.24,"y":0.33,"g":0.22,"m":0.16},
{"f":1.42,"b":0.24,"r":0.25,"y":0.3,"g":0.22,"m":0.16},
{"f":1.43,"b":0.25,"r":0.28,"y":0.25,"g":0.2,"m":0.16},
{"f":1.44,"b":0.22,"r":0.25,"y":0.22,"g":0.2,"m":0.15},
{"f":1.45,"b":0.22,"r":0.2,"y":0.2,"g":0.2,"m":0.15},
{"f":1.46,"b":0.22,"r":0.2,"y":0.2,"g":0.18,"m":0.15},
{"f":1.47,"b":0.2,"r":0.2,"y":0.19,"g":0.18,"m":0.15},
{"f":1.48,"b":0.2,"r":0.2,"y":0.27,"g":0.2,"m":0.15},
{"f":1.49,"b":0.22,"r":0.22,"y":0.28,"g":0.2,"m":0.15},
{"f":1.50,"b":0.3,"r":0.24,"y":0.24,"g":0.2,"m":0.16},
{"f":1.51,"b":0.27,"r":0.22,"y":0.22,"g":0.2,"m":0.16},
{"f":1.52,"b":0.2,"r":0.2,"y":0.2,"g":0.18,"m":0.15},
{"f":1.53,"b":0.2,"r":0.2,"y":0.22,"g":0.18,"m":0.15},
{"f":1.54,"b":0.22,"r":0.22,"y":0.25,"g":0.2,"m":0.16},
{"f":1.55,"b":0.25,"r":0.32,"y":0.28,"g":0.22,"m":0.16},
{"f":1.56,"b":0.26,"r":0.4,"y":0.3,"g":0.22,"m":0.17},
{"f":1.57,"b":0.24,"r":0.3,"y":0.25,"g":0.2,"m":0.16},
{"f":1.58,"b":0.2,"r":0.2,"y":0.2,"g":0.18,"m":0.16},
{"f":1.59,"b":0.22,"r":0.2,"y":0.2,"g":0.2,"m":0.16},
{"f":1.60,"b":0.34,"r":0.28,"y":0.22,"g":0.2,"m":0.17},
{"f":1.61,"b":0.33,"r":0.3,"y":0.22,"g":0.2,"m":0.17},
{"f":1.62,"b":0.32,"r":0.27,"y":0.22,"g":0.2,"m":0.17},
{"f":1.63,"b":0.22,"r":0.2,"y":0.2,"g":0.2,"m":0.17},
{"f":1.64,"b":0.2,"r":0.2,"y":0.19,"g":0.19,"m":0.17},
{"f":1.65,"b":0.22,"r":0.2,"y":0.2,"g":0.2,"m":0.18},
{"f":1.66,"b":0.22,"r":0.2,"y":0.21,"g":0.23,"m":0.19},
{"f":1.67,"b":0.24,"r":0.22,"y":0.22,"g":0.25,"m":0.2},
{"f":1.68,"b":0.33,"r":0.25,"y":0.22,"g":0.24,"m":0.21},
{"f":1.69,"b":0.44,"r":0.28,"y":0.24,"g":0.24,"m":0.22},
{"f":1.70,"b":0.35,"r":0.3,"y":0.24,"g":0.22,"m":0.23},
{"f":1.71,"b":0.25,"r":0.3,"y":0.22,"g":0.22,"m":0.24},
{"f":1.72,"b":0.23,"r":0.25,"y":0.22,"g":0.2,"m":0.22},
{"f":1.73,"b":0.22,"r":0.22,"y":0.2,"g":0.2,"m":0.2},
{"f":1.74,"b":0.2,"r":0.2,"y":0.2,"g":0.19,"m":0.19},
{"f":1.75,"b":0.2,"r":0.2,"y":0.19,"g":0.18,"m":0.18},
{"f":1.76,"b":0.22,"r":0.2,"y":0.18,"g":0.18,"m":0.17},
{"f":1.77,"b":0.24,"r":0.2,"y":0.18,"g":0.18,"m":0.17},
{"f":1.78,"b":0.2,"r":0.18,"y":0.18,"g":0.17,"m":0.16},
{"f":1.79,"b":0.18,"r":0.17,"y":0.17,"g":0.17,"m":0.16},
{"f":1.80,"b":0.18,"r":0.17,"y":0.17,"g":0.17,"m":0.16},
{"f":1.81,"b":0.18,"r":0.17,"y":0.17,"g":0.17,"m":0.16},
{"f":1.82,"b":0.18,"r":0.17,"y":0.18,"g":0.17,"m":0.16},
{"f":1.83,"b":0.18,"r":0.18,"y":0.2,"g":0.17,"m":0.16},
{"f":1.84,"b":0.18,"r":0.17,"y":0.18,"g":0.17,"m":0.16},
{"f":1.85,"b":0.18,"r":0.17,"y":0.17,"g":0.17,"m":0.16},
{"f":1.86,"b":0.18,"r":0.17,"y":0.17,"g":0.17,"m":0.16},
{"f":1.87,"b":0.19,"r":0.18,"y":0.18,"g":0.17,"m":0.17},
{"f":1.88,"b":0.2,"r":0.22,"y":0.2,"g":0.18,"m":0.18},
{"f":1.89,"b":0.22,"r":0.24,"y":0.27,"g":0.2,"m":0.2},
{"f":1.90,"b":0.22,"r":0.26,"y":0.24,"g":0.2,"m":0.2},
{"f":1.91,"b":0.22,"r":0.24,"y":0.22,"g":0.2,"m":0.2},
{"f":1.92,"b":0.22,"r":0.28,"y":0.22,"g":0.2,"m":0.2},
{"f":1.93,"b":0.22,"r":0.27,"y":0.22,"g":0.2,"m":0.19},
{"f":1.94,"b":0.2,"r":0.22,"y":0.2,"g":0.19,"m":0.18},
{"f":1.95,"b":0.19,"r":0.2,"y":0.19,"g":0.18,"m":0.17},
{"f":1.96,"b":0.18,"r":0.18,"y":0.17,"g":0.17,"m":0.16},
{"f":1.97,"b":0.16,"r":0.15,"y":0.15,"g":0.15,"m":0.14},
{"f":1.98,"b":0.15,"r":0.14,"y":0.14,"g":0.14,"m":0.13},
{"f":1.99,"b":0.15,"r":0.15,"y":0.14,"g":0.14,"m":0.13},
{"f":2.00,"b":0.15,"r":0.15,"y":0.14,"g":0.14,"m":0.13}
]
},
"vconcat":[
{
 "width":612,"height":124,
 "data":{"name":"A"},
 "title":{"text":"A"},
 "resolve":{"axis":{"x":"independent","y":"independent"}},
 "layer":[
  {"mark":{"type":"area","fill":"#0000ff","strokeWidth":0.5,"clip":true},
   "encoding":{
    "x":{"field":"f","type":"quantitative","scale":{"domain":[0.7,2],"nice":false,"zero":false},"axis":{"orient":"bottom","values":[0.8,1,1.2,1.4,1.6,1.8,2],"format":"~g","labelFont":"Liberation Serif","labelPadding":12,"title":"Frequency","titleFont":"Liberation Serif","titlePadding":2}},
    "y":{"field":"b","type":"quantitative","scale":{"domain":[0,4],"nice":false},"axis":{"orient":"left","values":[0,2,4],"format":"~g","labelFont":"Liberation Serif","labelPadding":9,"title":"Amplitude","titleFont":"Liberation Serif","titlePadding":2}},
    "stroke":{"datum":"OC1","type":"nominal","scale":{"domain":["OC1","OC3","OC5","OC12","OC31"],"range":["#0000ff","#ff0000","#ffff00","#00ff00","#ff00ff"]},"legend":{"title":null,"labelFont":"Liberation Serif"}}}},
  {"mark":{"type":"area","fill":"#ff0000","strokeWidth":0.5,"clip":true},
   "encoding":{
    "x":{"field":"f","type":"quantitative","axis":{"orient":"top","values":[0.8,1,1.2,1.4,1.6,1.8,2],"labels":false,"title":"G16-1 (OC1,3,5,12,31)","titleFont":"Liberation Serif","titleX":231,"titleY":192,"titleAlign":"left","titleBaseline":"alphabetic","titleAngle":0}},
    "y":{"field":"r","type":"quantitative","axis":{"orient":"right","values":[0,2,4],"labels":false,"title":"×10⁵","titleFont":"Liberation Serif","titleFontSize":17,"titleAngle":0,"titleX":-41,"titleY":175,"titleAlign":"left","titleBaseline":"alphabetic"}},
    "stroke":{"datum":"OC3","type":"nominal"}}},
  {"mark":{"type":"area","fill":"#ffff00","strokeWidth":0.5,"clip":true},
   "encoding":{"x":{"field":"f","type":"quantitative","axis":null},"y":{"field":"y","type":"quantitative","axis":null},"stroke":{"datum":"OC5","type":"nominal"}}},
  {"mark":{"type":"area","fill":"#00ff00","strokeWidth":0.5,"clip":true},
   "encoding":{"x":{"field":"f","type":"quantitative","axis":null},"y":{"field":"g","type":"quantitative","axis":null},"stroke":{"datum":"OC12","type":"nominal"}}},
  {"mark":{"type":"area","fill":"#ff00ff","strokeWidth":0.5,"clip":true},
   "encoding":{"x":{"field":"f","type":"quantitative","axis":null},"y":{"field":"m","type":"quantitative","axis":null},"stroke":{"datum":"OC31","type":"nominal"}}},
  {"data":{"values":[{}]},
   "mark":{"type":"text","align":"left","baseline":"alphabetic","dx":2,"dy":-3,"fontSize":15,"font":"Liberation Serif","color":"#000"},
   "encoding":{"x":{"datum":0.7,"type":"quantitative","axis":null},"y":{"datum":4,"type":"quantitative","axis":null},"text":{"value":"×10⁻⁵"}}}
 ]
},
{
 "width":612,"height":124,
 "data":{"name":"B"},
 "title":{"text":"B"},
 "resolve":{"axis":{"x":"independent","y":"independent"}},
 "layer":[
  {"mark":{"type":"area","fill":"#0000ff","strokeWidth":0.5,"clip":true},
   "encoding":{
    "x":{"field":"f","type":"quantitative","scale":{"domain":[0.7,2],"nice":false,"zero":false},"axis":{"orient":"bottom","values":[0.8,1,1.2,1.4,1.6,1.8,2],"format":"~g","labelFont":"Liberation Serif","labelPadding":12,"title":"Frequency","titleFont":"Liberation Serif","titlePadding":2}},
    "y":{"field":"b","type":"quantitative","scale":{"domain":[0,8],"nice":false},"axis":{"orient":"left","values":[0,2,4,6,8],"format":"~g","labelFont":"Liberation Serif","labelPadding":9,"title":"Amplitude","titleFont":"Liberation Serif","titlePadding":2}},
    "stroke":{"datum":"OC1","type":"nominal","scale":{"domain":["OC1","OC4","OC10","OC13","OC31"],"range":["#0000ff","#ff0000","#ffff00","#00ff00","#ff00ff"]},"legend":{"title":null,"labelFont":"Liberation Serif"}}}},
  {"mark":{"type":"area","fill":"#ff0000","strokeWidth":0.5,"clip":true},
   "encoding":{
    "x":{"field":"f","type":"quantitative","axis":{"orient":"top","values":[0.8,1,1.2,1.4,1.6,1.8,2],"labels":false,"title":"G16-2 (OC1,4,10,13,31)","titleFont":"Liberation Serif","titleX":231,"titleY":192,"titleAlign":"left","titleBaseline":"alphabetic","titleAngle":0}},
    "y":{"field":"r","type":"quantitative","axis":{"orient":"right","values":[0,2,4,6,8],"labels":false,"title":"×10⁵","titleFont":"Liberation Serif","titleFontSize":17,"titleAngle":0,"titleX":-41,"titleY":175,"titleAlign":"left","titleBaseline":"alphabetic"}},
    "stroke":{"datum":"OC4","type":"nominal"}}},
  {"mark":{"type":"area","fill":"#ffff00","strokeWidth":0.5,"clip":true},
   "encoding":{"x":{"field":"f","type":"quantitative","axis":null},"y":{"field":"y","type":"quantitative","axis":null},"stroke":{"datum":"OC10","type":"nominal"}}},
  {"mark":{"type":"area","fill":"#00ff00","strokeWidth":0.5,"clip":true},
   "encoding":{"x":{"field":"f","type":"quantitative","axis":null},"y":{"field":"g","type":"quantitative","axis":null},"stroke":{"datum":"OC13","type":"nominal"}}},
  {"mark":{"type":"area","fill":"#ff00ff","strokeWidth":0.5,"clip":true},
   "encoding":{"x":{"field":"f","type":"quantitative","axis":null},"y":{"field":"m","type":"quantitative","axis":null},"stroke":{"datum":"OC31","type":"nominal"}}},
  {"data":{"values":[{}]},
   "mark":{"type":"text","align":"left","baseline":"alphabetic","dx":2,"dy":-3,"fontSize":15,"font":"Liberation Serif","color":"#000"},
   "encoding":{"x":{"datum":0.7,"type":"quantitative","axis":null},"y":{"datum":8,"type":"quantitative","axis":null},"text":{"value":"×10⁻⁵"}}}
 ]
},
{
 "width":612,"height":124,
 "data":{"name":"C"},
 "title":{"text":"C"},
 "resolve":{"axis":{"x":"independent","y":"independent"}},
 "layer":[
  {"mark":{"type":"area","fill":"#0000ff","strokeWidth":0.5,"clip":true},
   "encoding":{
    "x":{"field":"f","type":"quantitative","scale":{"domain":[0.7,2],"nice":false,"zero":false},"axis":{"orient":"bottom","values":[0.8,1,1.2,1.4,1.6,1.8,2],"format":"~g","labelFont":"Liberation Serif","labelPadding":12,"title":"Frequency","titleFont":"Liberation Serif","titlePadding":2}},
    "y":{"field":"b","type":"quantitative","scale":{"domain":[0,2.3],"nice":false},"axis":{"orient":"left","values":[0,1,2],"format":"~g","labelFont":"Liberation Serif","labelPadding":9,"title":"Amplitude","titleFont":"Liberation Serif","titlePadding":2}},
    "stroke":{"datum":"OC1","type":"nominal","scale":{"domain":["OC1","OC3","OC5","OC8","OC35"],"range":["#0000ff","#ff0000","#ffff00","#00ff00","#ff00ff"]},"legend":{"title":null,"labelFont":"Liberation Serif"}}}},
  {"mark":{"type":"area","fill":"#ff0000","strokeWidth":0.5,"clip":true},
   "encoding":{
    "x":{"field":"f","type":"quantitative","axis":{"orient":"top","values":[0.8,1,1.2,1.4,1.6,1.8,2],"labels":false,"title":"G16-3 (OC1,3,5,8,35)","titleFont":"Liberation Serif","titleX":231,"titleY":192,"titleAlign":"left","titleBaseline":"alphabetic","titleAngle":0}},
    "y":{"field":"r","type":"quantitative","axis":{"orient":"right","values":[0,1,2],"labels":false,"title":"×10⁵","titleFont":"Liberation Serif","titleFontSize":17,"titleAngle":0,"titleX":-41,"titleY":175,"titleAlign":"left","titleBaseline":"alphabetic"}},
    "stroke":{"datum":"OC3","type":"nominal"}}},
  {"mark":{"type":"area","fill":"#ffff00","strokeWidth":0.5,"clip":true},
   "encoding":{"x":{"field":"f","type":"quantitative","axis":null},"y":{"field":"y","type":"quantitative","axis":null},"stroke":{"datum":"OC5","type":"nominal"}}},
  {"mark":{"type":"area","fill":"#00ff00","strokeWidth":0.5,"clip":true},
   "encoding":{"x":{"field":"f","type":"quantitative","axis":null},"y":{"field":"g","type":"quantitative","axis":null},"stroke":{"datum":"OC8","type":"nominal"}}},
  {"mark":{"type":"area","fill":"#ff00ff","strokeWidth":0.5,"clip":true},
   "encoding":{"x":{"field":"f","type":"quantitative","axis":null},"y":{"field":"m","type":"quantitative","axis":null},"stroke":{"datum":"OC35","type":"nominal"}}},
  {"data":{"values":[{}]},
   "mark":{"type":"text","align":"left","baseline":"alphabetic","dx":2,"dy":-3,"fontSize":15,"font":"Liberation Serif","color":"#000"},
   "encoding":{"x":{"datum":0.7,"type":"quantitative","axis":null},"y":{"datum":2.3,"type":"quantitative","axis":null},"text":{"value":"×10⁻⁵"}}}
 ]
}
]
}
